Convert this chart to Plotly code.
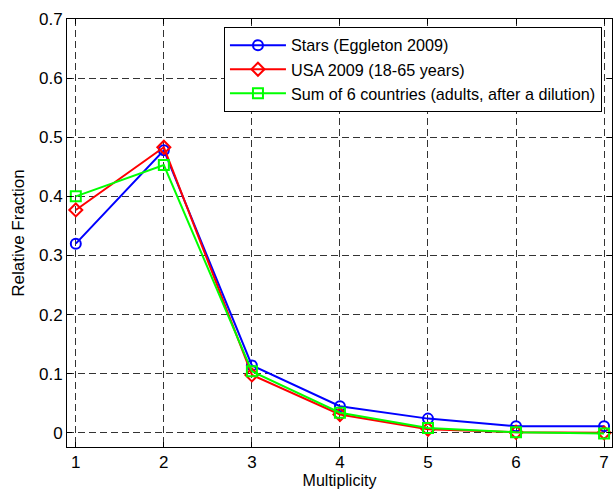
import plotly.graph_objects as go

multiplicity = [1, 2, 3, 4, 5, 6, 7]
stars = [0.320, 0.478, 0.114, 0.045, 0.024, 0.011, 0.011]
usa = [0.377, 0.483, 0.098, 0.031, 0.006, 0.001, 0.000]
six_countries = [0.400, 0.453, 0.104, 0.034, 0.008, 0.001, -0.001]

names = ["Stars (Eggleton 2009)", "USA 2009 (18-65 years)",
         "Sum of 6 countries (adults, after a dilution)"]
colors = ["#0000FF", "#FF0000", "#00FF00"]
symbols = ["circle-open", "diamond-open", "square-open"]
series = [stars, usa, six_countries]

fig = go.Figure()
for name, col, sym, ys in zip(names, colors, symbols, series):
    fig.add_trace(go.Scatter(
        x=multiplicity, y=ys, mode="lines+markers", name=name,
        line=dict(color=col, width=2),
        marker=dict(symbol=sym, size=10, color=col, line=dict(width=2, color=col)),
    ))

ffam = "Liberation Sans, Arial, sans-serif"
font = dict(family=ffam, size=17, color="black")
title_font = dict(family=ffam, size=16, color="black")
axis_common = dict(
    showline=True, linecolor="black", linewidth=1, mirror="ticks",
    ticks="inside", ticklen=5, tickcolor="black", tickwidth=1,
    showgrid=True, gridcolor="#333333", gridwidth=1, griddash="7px,4px",
    zeroline=False, tickfont=font, automargin=False,
)
fig.update_layout(
    width=616, height=489,
    margin=dict(l=67, r=4, t=19, b=42),
    paper_bgcolor="white", plot_bgcolor="white",
    font=font,
    showlegend=True,
    legend=dict(x=0.288, y=0.981, xanchor="left", yanchor="top",
                bgcolor="white", bordercolor="black", borderwidth=1,
                font=dict(family=ffam, size=16.2, color="black"),
                tracegroupgap=0, itemwidth=56),
    xaxis=dict(range=[0.9, 7.09], tickvals=multiplicity, ticktext=[str(v) for v in multiplicity],
               title=dict(text="Multiplicity", font=title_font, standoff=4), **axis_common),
    yaxis=dict(range=[-0.024, 0.7], tickvals=[0, 0.1, 0.2, 0.3, 0.4, 0.5, 0.6, 0.7],
               ticktext=["0", "0.1", "0.2", "0.3", "0.4", "0.5", "0.6", "0.7"],
               title=dict(text="Relative Fraction", font=font, standoff=10), **axis_common),
)
fig.write_html("out.html", post_script="document.body.style.margin='0';",
               config={"displayModeBar": False})
